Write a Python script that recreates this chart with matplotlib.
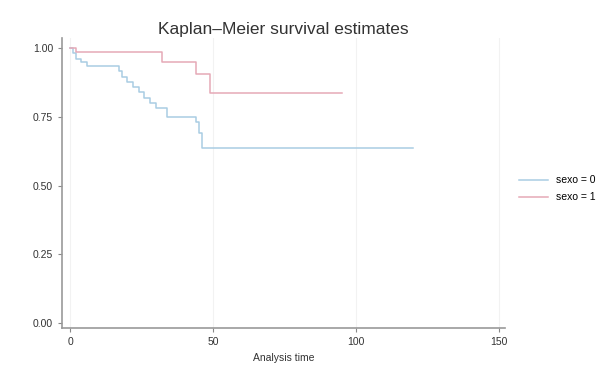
import matplotlib.pyplot as plt

# Kaplan-Meier steps
time_0 = [0, 1, 2, 4, 6, 17, 18, 20, 22, 24, 26, 28, 30, 34, 44, 45, 46, 120]
surv_0 = [1.0, 0.98, 0.96, 0.95, 0.935, 0.915, 0.895, 0.876, 0.857, 0.838,
          0.818, 0.80, 0.78, 0.75, 0.73, 0.69, 0.635, 0.635]

time_1 = [0, 2, 32, 44, 49, 95]
surv_1 = [1.0, 0.985, 0.95, 0.905, 0.835, 0.835]

labels = ["sexo = 0", "sexo = 1"]
xticks = [0, 50, 100, 150]
yticks = [0.0, 0.25, 0.5, 0.75, 1.0]

plt.rcParams['font.family'] = ['Liberation Sans', 'DejaVu Sans']

fig = plt.figure(figsize=(6.05, 3.65), dpi=100)
ax = fig.add_axes([0.1025, 0.101, 0.732, 0.795])

ax.step(time_0, surv_0, where='post', color='#a9cde3', lw=1.1, label=labels[0])
ax.step(time_1, surv_1, where='post', color='#e6a9b7', lw=1.1, label=labels[1])

ax.set_xlim(-2.8, 152)
ax.set_ylim(-0.018, 1.036)
ax.set_xticks(xticks)
ax.set_yticks(yticks)
ax.set_yticklabels(["%.2f" % v for v in yticks])
ax.tick_params(labelsize=7.5, length=3, color='#888888', labelcolor='#333333')
ax.xaxis.grid(True, color='#f2f2f2', lw=0.8)
ax.set_axisbelow(True)

for s in ['top', 'right']:
    ax.spines[s].set_visible(False)
for s in ['left', 'bottom']:
    ax.spines[s].set_color('#999999')
    ax.spines[s].set_linewidth(1.2)

ax.set_xlabel("Analysis time", fontsize=7.5, color='#333333', labelpad=4)
ax.set_title("Kaplan\u2013Meier survival estimates", fontsize=12.5, color='#333333', pad=3)

ax.legend(loc='center left', bbox_to_anchor=(1.01, 0.48), frameon=False,
          fontsize=7.5, handlelength=2.8, labelspacing=0.7)

fig.savefig("out.png", dpi=100)
